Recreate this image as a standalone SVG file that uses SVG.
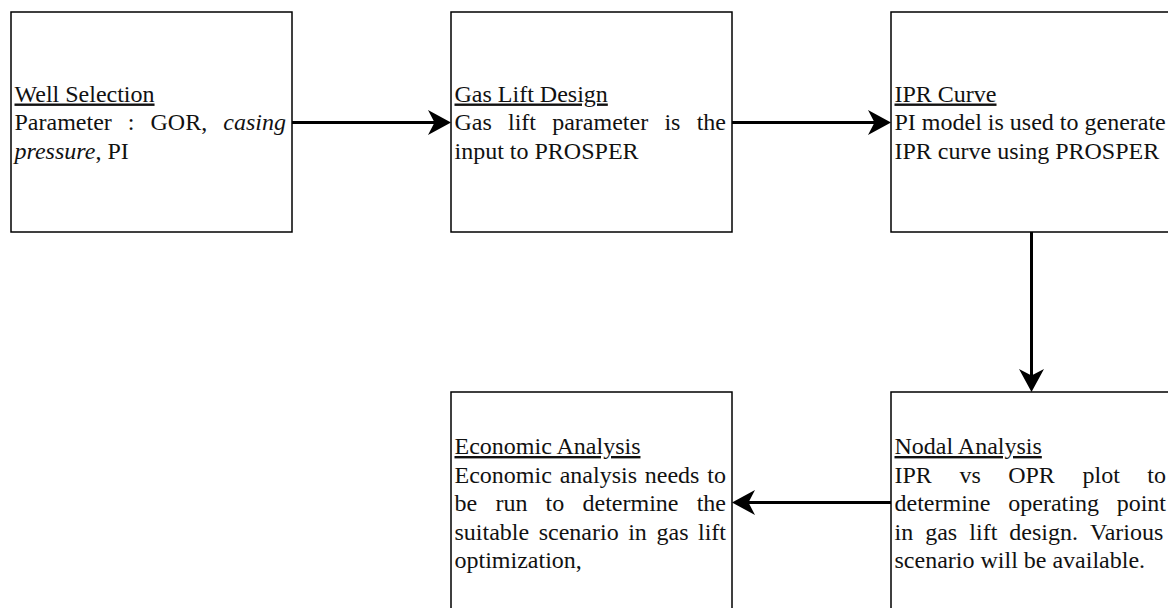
<svg xmlns="http://www.w3.org/2000/svg" width="1168" height="608" viewBox="0 0 1168 608">
  <style>
    .box { fill: #ffffff; stroke: #000000; stroke-width: 1.5; }
    .t { font-family: "Liberation Serif", "Times New Roman", serif; font-size: 24px; fill: #111111; }
    .h { text-decoration: underline; }
    .i { font-style: italic; }
    .conn { fill: none; stroke: #000000; stroke-width: 3; }
  </style>
  <defs>
    <marker id="arrow" markerUnits="userSpaceOnUse" markerWidth="36" markerHeight="28" viewBox="-24 -14 36 28" refX="-10" refY="0" orient="auto" overflow="visible">
      <path d="M0,0 L-23,-12.5 L-16.5,0 L-23,12.5 Z" fill="#000000"/>
    </marker>
  </defs>
  <rect x="0" y="0" width="1168" height="608" fill="#ffffff"/>

  <g id="well-selection">
    <rect class="box" x="11" y="12" width="281" height="220"/>
    <text class="t"><tspan class="h" x="14.5" y="101.5">Well Selection</tspan></text>
    <text class="t" y="130"><tspan x="14.5">Parameter</tspan><tspan x="127.8">:</tspan><tspan x="150.5">GOR,</tspan><tspan class="i" x="223.3">casing</tspan></text>
    <text class="t" x="14.5" y="158.5"><tspan class="i">pressure</tspan>, PI</text>
  </g>

  <g id="gas-lift-design">
    <rect class="box" x="451" y="12" width="281" height="220"/>
    <text class="t"><tspan class="h" x="454.5" y="101.5">Gas Lift Design</tspan></text>
    <text class="t" y="130"><tspan x="454.5">Gas</tspan><tspan x="508">lift</tspan><tspan x="552.2">parameter</tspan><tspan x="664.4">is</tspan><tspan x="696.7">the</tspan></text>
    <text class="t" x="454.5" y="158.5">input to PROSPER</text>
  </g>

  <g id="ipr-curve">
    <rect class="box" x="891" y="12" width="281" height="220"/>
    <text class="t"><tspan class="h" x="894.5" y="101.5">IPR Curve</tspan></text>
    <text class="t" x="894.5" y="130">PI model is used to generate</text>
    <text class="t" x="894.5" y="158.5">IPR curve using PROSPER</text>
  </g>

  <g id="economic-analysis">
    <rect class="box" x="451" y="392" width="281" height="220"/>
    <text class="t"><tspan class="h" x="454.5" y="454">Economic Analysis</tspan></text>
    <text class="t" y="482.5"><tspan x="454.5">Economic</tspan><tspan x="559.7">analysis</tspan><tspan x="644.8">needs</tspan><tspan x="707.3">to</tspan></text>
    <text class="t" y="511"><tspan x="454.5">be</tspan><tspan x="495.4">run</tspan><tspan x="545.6">to</tspan><tspan x="582.5">determine</tspan><tspan x="696.7">the</tspan></text>
    <text class="t" y="539.5"><tspan x="454.5">suitable</tspan><tspan x="538.7">scenario</tspan><tspan x="628.2">in</tspan><tspan x="656.5">gas</tspan><tspan x="698">lift</tspan></text>
    <text class="t" x="454.5" y="568">optimization,</text>
  </g>

  <g id="nodal-analysis">
    <rect class="box" x="891" y="392" width="281" height="220"/>
    <text class="t"><tspan class="h" x="894.5" y="454">Nodal Analysis</tspan></text>
    <text class="t" y="482.5"><tspan x="894.5">IPR</tspan><tspan x="959.4">vs</tspan><tspan x="1008.2">OPR</tspan><tspan x="1082.5">plot</tspan><tspan x="1147.3">to</tspan></text>
    <text class="t" y="511"><tspan x="894.5">determine</tspan><tspan x="1008.3">operating</tspan><tspan x="1116.7">point</tspan></text>
    <text class="t" y="539.5"><tspan x="894.5">in</tspan><tspan x="925.2">gas</tspan><tspan x="969.3">lift</tspan><tspan x="1009.3">design.</tspan><tspan x="1090">Various</tspan></text>
    <text class="t" x="894.5" y="568">scenario will be available.</text>
  </g>

  <g id="connectors">
    <path class="conn" d="M292,122.5 L441,122.5" marker-end="url(#arrow)"/>
    <path class="conn" d="M732,122.5 L881,122.5" marker-end="url(#arrow)"/>
    <path class="conn" d="M1031.5,232 L1031.5,382" marker-end="url(#arrow)"/>
    <path class="conn" d="M891,502.5 L742,502.5" marker-end="url(#arrow)"/>
  </g>
</svg>
